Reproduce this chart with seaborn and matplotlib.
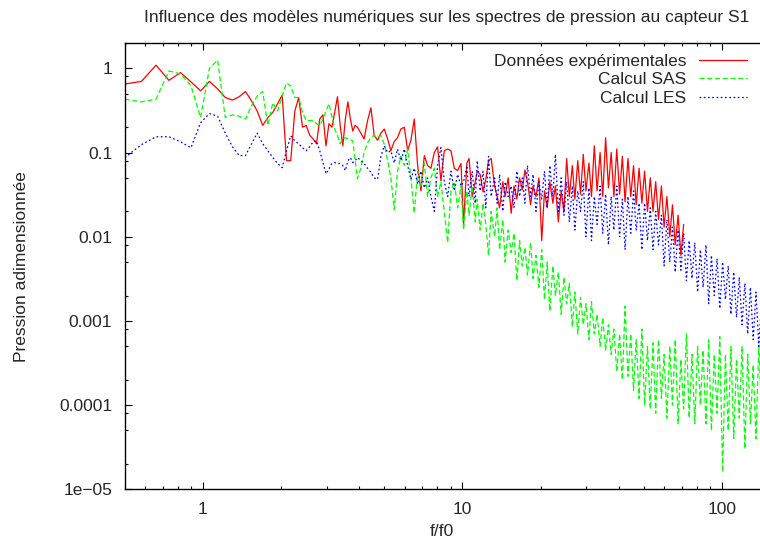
import numpy as np
import pandas as pd
import matplotlib
matplotlib.use("Agg")
import matplotlib.pyplot as plt
from matplotlib.ticker import LogLocator, NullFormatter
import seaborn as sns

# Frequences reduites f/f0 (grille commune aux trois spectres)
freq_low = [0.50, 0.58, 0.66, 0.74, 0.82, 0.90, 0.98, 1.06, 1.14, 1.22,
            1.30, 1.38, 1.46, 1.54, 1.62, 1.70, 1.78, 1.86, 1.94, 2.02,
            2.10, 2.18, 2.26, 2.34, 2.42, 2.50, 2.58, 2.66, 2.74, 2.82,
            2.90, 2.98, 3.06, 3.14, 3.22, 3.30, 3.38, 3.46, 3.54, 3.62,
            3.70, 3.78, 3.86, 3.94]
freq_mid = [4.06, 4.18, 4.31, 4.44, 4.57, 4.71, 4.85, 5.0, 5.15, 5.3,
            5.46, 5.62, 5.79, 5.97, 6.15, 6.33, 6.52, 6.72, 6.92, 7.13,
            7.34, 7.56, 7.79, 8.02, 8.26, 8.51, 8.77, 9.03, 9.3, 9.58,
            9.87]
freq_high = [10.1, 10.4, 10.6, 10.9, 11.2, 11.4, 11.7, 12.0, 12.3, 12.6,
             12.9, 13.3, 13.6, 13.9, 14.3, 14.6, 15.0, 15.4, 15.8, 16.2,
             16.6, 17.0, 17.4, 17.8, 18.3, 18.7, 19.2, 19.7, 20.2, 20.7,
             21.2, 21.7, 22.3, 22.8, 23.4, 24.0, 24.6, 25.2, 25.8, 26.5,
             27.1, 27.8, 28.5, 29.2, 29.9, 30.7, 31.4, 32.2, 33.0, 33.9,
             34.7, 35.6, 36.5, 37.4, 38.3, 39.3, 40.3, 41.3, 42.3, 43.4,
             44.5, 45.6, 46.7, 47.9, 49.1, 50.3, 51.6, 52.9, 54.2, 55.5,
             56.9, 58.4, 59.8, 61.3, 62.9, 64.4, 66.0, 67.7, 69.4, 71.1,
             72.9, 74.7, 76.6, 78.5, 80.5, 82.5, 84.5, 86.7, 88.8, 91.0,
             93.3, 95.7, 98.0, 100.5, 103.0, 105.6, 108.2, 110.9, 113.7, 116.5,
             119.4, 122.4, 125.5, 128.6, 131.8, 135.1, 138.5, 142.0]
freq = freq_low + freq_mid + freq_high

# Donnees experimentales (s'arretent vers f/f0 = 70)
p_exp = [0.65, 0.70, 1.09, 0.72, 0.89, 0.69, 0.54, 0.70, 0.57, 0.45,
         0.42, 0.46, 0.53, 0.41, 0.31, 0.21, 0.26, 0.30, 0.38, 0.48,
         0.08, 0.08, 0.31, 0.45, 0.20, 0.21, 0.16, 0.145, 0.127, 0.25,
         0.28, 0.12, 0.22, 0.20, 0.30, 0.46, 0.21, 0.12, 0.25, 0.40,
         0.25, 0.18, 0.21, 0.20,
         0.17, 0.145, 0.24, 0.34, 0.16, 0.14, 0.17, 0.19, 0.145, 0.105,
         0.135, 0.15, 0.19, 0.20, 0.105, 0.14, 0.25, 0.07, 0.035, 0.092,
         0.07, 0.065, 0.10, 0.117, 0.046, 0.105, 0.11, 0.105, 0.065, 0.061,
         0.074,
         0.014, 0.075, 0.085, 0.03, 0.045, 0.06, 0.055, 0.034, 0.048, 0.08,
         0.085, 0.04, 0.03, 0.022, 0.045, 0.03, 0.05, 0.019, 0.04, 0.028,
         0.05, 0.036, 0.062, 0.045, 0.024, 0.04, 0.03, 0.05, 0.009, 0.035,
         0.022, 0.045, 0.025, 0.04, 0.015, 0.035, 0.02, 0.085, 0.03, 0.07,
         0.028, 0.08, 0.032, 0.095, 0.035, 0.075, 0.03, 0.12, 0.035, 0.1,
         0.03, 0.15, 0.038, 0.1, 0.03, 0.11, 0.032, 0.09, 0.026, 0.085,
         0.03, 0.07, 0.024, 0.065, 0.025, 0.06, 0.02, 0.05, 0.02, 0.045,
         0.016, 0.04, 0.013, 0.03, 0.01, 0.024, 0.008, 0.018, 0.006, 0.014]

# Calcul SAS
p_sas = [0.43, 0.40, 0.43, 0.93, 0.86, 0.62, 0.26, 1.0, 1.25, 0.26,
         0.28, 0.27, 0.25, 0.36, 0.47, 0.53, 0.21, 0.39, 0.31, 0.47,
         0.67, 0.62, 0.45, 0.45, 0.30, 0.24, 0.24, 0.24, 0.22, 0.21,
         0.25, 0.31, 0.38, 0.27, 0.19, 0.16, 0.127, 0.145, 0.15, 0.145,
         0.14, 0.138, 0.08, 0.049,
         0.065, 0.10, 0.13, 0.15, 0.16, 0.15, 0.16, 0.125, 0.08, 0.05,
         0.021, 0.06, 0.09, 0.07, 0.11, 0.05, 0.019, 0.06, 0.04, 0.075,
         0.03, 0.05, 0.065, 0.03, 0.045, 0.02, 0.0085, 0.035, 0.045, 0.022,
         0.04,
         0.012, 0.035, 0.018, 0.040, 0.015, 0.028, 0.012, 0.025, 0.014, 0.006,
         0.020, 0.010, 0.022, 0.007, 0.016, 0.005, 0.012, 0.0065, 0.011, 0.003,
         0.009, 0.0045, 0.0075, 0.0035, 0.0085, 0.0032, 0.006, 0.0025, 0.007, 0.0018,
         0.005, 0.0013, 0.0045, 0.002, 0.0038, 0.0012, 0.0033, 0.0016, 0.0028, 0.00085,
         0.0022, 0.0007, 0.0019, 0.0009, 0.0016, 0.0006, 0.0017, 0.0007, 0.0012, 0.0005,
         0.0011, 0.00045, 0.0009, 0.0004, 0.0008, 0.00025, 0.0007, 0.0002, 0.0015, 0.00022,
         0.0007, 0.00015, 0.0006, 0.00012, 0.0008, 0.0001, 0.0005, 0.00009, 0.00055, 0.00008,
         0.0006, 0.00012, 0.0004, 0.00007, 0.0005, 0.0001, 0.0006, 0.00006, 0.00035, 0.00009,
         0.0007, 0.00007, 0.0004, 0.00006, 0.0005, 0.0001, 0.00045, 0.00006, 0.0006, 0.00005,
         0.0004, 0.00008, 0.00065, 0.000016, 0.0004, 0.00005, 0.0005, 0.00004, 0.00035, 0.00007,
         0.0005, 0.00003, 0.0004, 0.00006, 0.0003, 0.00004, 0.0005, 0.00008]

# Calcul LES
p_les = [0.087, 0.124, 0.154, 0.154, 0.134, 0.114, 0.226, 0.29, 0.27, 0.17,
         0.117, 0.092, 0.092, 0.127, 0.17, 0.127, 0.105, 0.087, 0.074, 0.066,
         0.105, 0.158, 0.138, 0.127, 0.114, 0.105, 0.117, 0.134, 0.138, 0.105,
         0.076, 0.056, 0.064, 0.074, 0.076, 0.074, 0.074, 0.07, 0.061, 0.08,
         0.087, 0.076, 0.08, 0.087,
         0.08, 0.074, 0.065, 0.058, 0.05, 0.048, 0.09, 0.12, 0.10, 0.105,
         0.075, 0.11, 0.08, 0.11, 0.07, 0.048, 0.065, 0.042, 0.06, 0.038,
         0.05, 0.03, 0.02, 0.07, 0.115, 0.045, 0.03, 0.06, 0.035, 0.055,
         0.04,
         0.045, 0.07, 0.03, 0.06, 0.025, 0.08, 0.035, 0.06, 0.022, 0.09,
         0.03, 0.05, 0.025, 0.055, 0.02, 0.045, 0.03, 0.04, 0.022, 0.06,
         0.03, 0.05, 0.025, 0.07, 0.03, 0.055, 0.02, 0.045, 0.028, 0.06,
         0.022, 0.07, 0.03, 0.095, 0.02, 0.05, 0.018, 0.045, 0.015, 0.04,
         0.012, 0.035, 0.02, 0.045, 0.01, 0.038, 0.009, 0.03, 0.014, 0.04,
         0.011, 0.032, 0.008, 0.03, 0.012, 0.04, 0.01, 0.028, 0.007, 0.03,
         0.011, 0.035, 0.012, 0.025, 0.007, 0.025, 0.009, 0.022, 0.007, 0.02,
         0.008, 0.018, 0.0045, 0.016, 0.005, 0.013, 0.0038, 0.012, 0.004, 0.011,
         0.003, 0.009, 0.0032, 0.0085, 0.0022, 0.007, 0.0025, 0.008, 0.0016, 0.006,
         0.002, 0.0055, 0.0014, 0.005, 0.0018, 0.0045, 0.0012, 0.0038, 0.0011, 0.0033,
         0.0009, 0.0028, 0.0007, 0.0025, 0.0006, 0.0022, 0.0005, 0.0018]

series_labels = ["Données expérimentales", "Calcul SAS", "Calcul LES"]
y_ticks = [1, 0.1, 0.01, 0.001, 0.0001, 1e-5]
y_ticklabels = ["1", "0.1", "0.01", "0.001", "0.0001", "1e\u221205"]
x_ticks = [1, 10, 100]
x_ticklabels = ["1", "10", "100"]

sns.set_style("ticks")
plt.rcParams["font.family"] = ["Liberation Sans", "DejaVu Sans"]
fs = 12.5

fig = plt.figure(figsize=(7.6, 5.4), dpi=100)
ax = fig.add_axes([0.1641, 0.0939, 0.8359, 0.8265])

styles = [
    (p_exp, "#ff0000", "-"),
    (p_sas, "#00ff00", (0, (4, 2.2))),
    (p_les, "#0000ff", (0, (1.4, 2.0))),
]
for (vals, col, ls), lab in zip(styles, series_labels):
    sns.lineplot(x=freq[:len(vals)], y=vals, ax=ax, color=col, linestyle=ls,
                 linewidth=0.9, estimator=None, label=lab)

ax.set_xscale("log")
ax.set_yscale("log")
ax.set_xlim(0.5, 140)
ax.set_ylim(1e-5, 2)

ax.set_xticks(x_ticks, labels=x_ticklabels)
ax.set_yticks(y_ticks, labels=y_ticklabels)
ax.xaxis.set_minor_locator(LogLocator(base=10, subs=np.arange(2, 10)))
ax.yaxis.set_minor_locator(LogLocator(base=10, subs=(2, 5, 8)))
ax.xaxis.set_minor_formatter(NullFormatter())
ax.yaxis.set_minor_formatter(NullFormatter())
ax.tick_params(which="both", direction="in", top=True, right=False,
               width=0.8, color="black", labelsize=fs)
ax.tick_params(which="major", length=5, pad=9)
ax.tick_params(which="minor", length=2.5)

for side in ["left", "bottom", "top"]:
    ax.spines[side].set_linewidth(1.0)
    ax.spines[side].set_color("black")
ax.spines["right"].set_visible(False)

ax.set_xlabel("f/f0", fontsize=fs)
ax.set_ylabel("Pression adimensionnée", fontsize=fs)
ax.xaxis.set_label_coords(0.5, -0.078)
ax.yaxis.set_label_coords(-0.151, 0.5)

fig.text(0.5875, 0.967, "Influence des modèles numériques sur les spectres de pression au capteur S1",
         ha="center", va="center", fontsize=fs)

leg = ax.legend(loc="upper right", bbox_to_anchor=(0.98, 0.976), frameon=False,
                markerfirst=False, handlelength=2.8, handletextpad=0.7,
                labelspacing=0.2, borderpad=0, borderaxespad=0, fontsize=fs)

fig.savefig("out.png", dpi=100)
